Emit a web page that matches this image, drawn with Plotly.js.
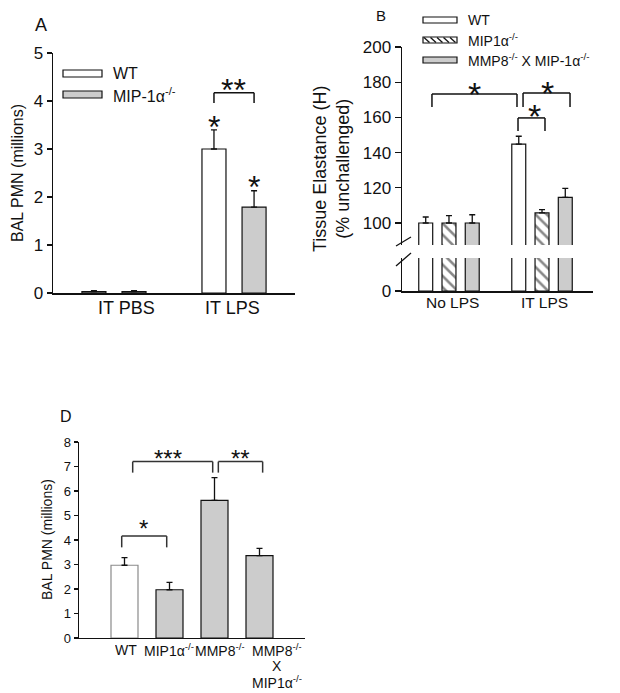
<!DOCTYPE html>
<html><head><meta charset="utf-8">
<script src="https://cdn.plot.ly/plotly-3.0.1.min.js"></script>
<style>html,body{margin:0;padding:0;background:#fff}</style>
</head><body>
<div id="chart" style="width:620px;height:693px"></div>
<script>
// ---------- Panel A data ----------
const groupsA = ["IT PBS", "IT LPS"];
const wtA = [0.03, 3.0];
const wtErrA = [0.02, 0.40];
const mipA = [0.03, 1.79];
const mipErrA = [0.02, 0.34];
const ticksA = [0, 1, 2, 3, 4, 5];
const seriesNamesA = ["WT", "MIP-1α<sup>-/-</sup>"];

// ---------- Panel B data ----------
const groupsB = ["No LPS", "IT LPS"];
const wtB = [100, 144.8];
const wtErrB = [3.4, 4.5];
const mipB = [100, 105.7];
const mipErrB = [4.2, 1.9];
const dkoB = [100, 114.6];
const dkoErrB = [4.7, 5.1];
const ticksB = [100, 120, 140, 160, 180, 200];
const ticksBLow = [0];
const seriesNamesB = ["WT", "MIP1α<sup>-/-</sup>", "MMP8<sup>-/-</sup> X MIP-1α<sup>-/-</sup>"];

// ---------- Panel D data ----------
const strainsD = ["WT", "MIP1a", "MMP8", "MMP8xMIP1a"];
const strainLabelsD = ["WT", "MIP1α<sup>-/-</sup>", "MMP8<sup>-/-</sup>", "MMP8<sup>-/-</sup>|X|MIP1α<sup>-/-</sup>"];
const pmnD = [2.97, 1.97, 5.62, 3.36];
const pmnErrD = [0.31, 0.30, 0.93, 0.30];
const ticksD = [0, 1, 2, 3, 4, 5, 6, 7, 8];

// ---------- styling helpers ----------
const W = 620, H = 693;
const px = x => x / W;
const py = y => 1 - y / H;
const FONT = "Liberation Sans, Arial, sans-serif";
const GRAY = "#cccccc";
const INK = "#111111";

function zeros(a) { return a.map(() => 0); }
function errY(arr) {
  return { type: "data", array: arr, arrayminus: zeros(arr), symmetric: false,
           color: INK, thickness: 1.3, width: 3 };
}
function barTrace(x, y, err, xa, ya, fill, offset, width, extra) {
  const t = {
    type: "bar", x: x, y: y, xaxis: xa, yaxis: ya, offset: offset, width: width,
    marker: { color: fill, line: { color: INK, width: 1.2 } },
    hoverinfo: "skip", showlegend: false
  };
  if (err) t.error_y = errY(err);
  return Object.assign(t, extra || {});
}
const hatch = { shape: "\\", size: 8, solidity: 0.32, fgcolor: INK, bgcolor: "white", fillmode: "overlay" };

const traces = [];
// Panel A
traces.push(barTrace(groupsA, wtA, wtErrA, "x", "y", "white", -0.267, 0.2));
traces.push(barTrace(groupsA, mipA, mipErrA, "x", "y", GRAY, 0.067, 0.2));
// Panel B upper part
const offB = [-0.325, -0.075, 0.175], wB = 0.15;
traces.push(barTrace(groupsB, wtB, wtErrB, "x2", "y2", "white", offB[0], wB));
traces.push(barTrace(groupsB, mipB, mipErrB, "x2", "y2", "white", offB[1], wB));
traces[traces.length - 1].marker.pattern = hatch;
traces.push(barTrace(groupsB, dkoB, dkoErrB, "x2", "y2", GRAY, offB[2], wB));
// Panel B lower part (below axis break)
traces.push(barTrace(groupsB, wtB, null, "x2", "y3", "white", offB[0], wB));
traces.push(barTrace(groupsB, mipB, null, "x2", "y3", "white", offB[1], wB));
traces[traces.length - 1].marker.pattern = hatch;
traces.push(barTrace(groupsB, dkoB, null, "x2", "y3", GRAY, offB[2], wB));
// Panel D
const dFill = ["white", GRAY, GRAY, GRAY];
const dLine = ["#8a8a8a", INK, INK, INK];
const tD = barTrace(strainsD, pmnD, pmnErrD, "x3", "y4", dFill, -0.3, 0.6);
tD.marker.line.color = dLine;
traces.push(tD);

// ---------- axes ----------
function yax(domain, range, tickvals, size, extra) {
  return Object.assign({
    domain: domain, range: range, tickvals: tickvals, ticktext: tickvals.map(String),
    showline: true, linecolor: INK, linewidth: 1.5, ticks: "outside", ticklen: 5,
    tickwidth: 1.3, tickcolor: INK, showgrid: false, zeroline: false,
    tickfont: { family: FONT, size: size, color: INK }, fixedrange: true
  }, extra || {});
}
function xax(domain, range, anchor, extra) {
  return Object.assign({
    domain: domain, range: range, anchor: anchor, type: "category",
    showline: true, linecolor: INK, linewidth: 1.5, ticks: "", showgrid: false,
    zeroline: false, showticklabels: false, fixedrange: true
  }, extra || {});
}

const layout = {
  width: W, height: H, margin: { l: 0, r: 0, t: 0, b: 0 },
  paper_bgcolor: "white", plot_bgcolor: "rgba(0,0,0,0)",
  barmode: "overlay", showlegend: false,
  font: { family: FONT, color: INK },
  xaxis: xax([px(53), px(295)], [-0.508, 1.508], "y"),
  yaxis: yax([py(293), py(53)], [0, 5], ticksA, 17, { anchor: "x" }),
  xaxis2: xax([px(402), px(593)], [-0.505, 1.548], "y3"),
  yaxis2: yax([py(245), py(47)], [87.5, 200], ticksB, 17, { anchor: "x2", ticklen: 6 }),
  yaxis3: yax([py(291), py(258)], [0, 19], ticksBLow, 17, { anchor: "x2", ticklen: 6 }),
  xaxis3: xax([px(79), px(305)], [-1.011, 4.011], "y4", { linewidth: 1.3 }),
  yaxis4: yax([py(638), py(442)], [0, 8], ticksD, 13, { anchor: "x3", ticklen: 4, linewidth: 1.3 }),
  shapes: [], annotations: []
};

const S = layout.shapes, A = layout.annotations;
function bracket(xref, yref, x1, x2, yTop, yBot, color) {
  const line = { color: color || INK, width: 1.5 };
  S.push({ type: "line", xref: xref, yref: yref, x0: x1, x1: x1, y0: yBot, y1: yTop, line: line });
  S.push({ type: "line", xref: xref, yref: yref, x0: x1, x1: x2, y0: yTop, y1: yTop, line: line });
  S.push({ type: "line", xref: xref, yref: yref, x0: x2, x1: x2, y0: yBot, y1: yTop, line: line });
}
function stars(xref, yref, x, y, text, size, yshift) {
  A.push({ xref: xref, yref: yref, x: x, y: y, text: text, showarrow: false,
           xanchor: "center", yanchor: "middle", yshift: (yshift || 0) - 0.23 * size,
           font: { family: FONT, size: size, color: INK } });
}
function label(x, y, text, size, extra) {
  A.push(Object.assign({ xref: "paper", yref: "paper", x: px(x), y: py(y), text: text,
    showarrow: false, xanchor: "center", yanchor: "middle",
    font: { family: FONT, size: size, color: INK } }, extra || {}));
}
function catLabels(xref, yref, cats, shifts, size, yshift, lineStep) {
  cats.forEach((t, i) => {
    String(t).split("|").forEach((line, j) => {
      const a = { xref: xref, yref: yref, x: i, y: 0, text: line,
        showarrow: false, xanchor: "center", yanchor: "top", xshift: shifts[i],
        yshift: yshift - j * (lineStep || 0), font: { family: FONT, size: size, color: INK } };
      if (lineStep) { a.height = lineStep; a.valign = "middle"; a.borderpad = 0; }
      A.push(a);
    });
  });
}
function legendBox(x0, y0, x1, y1, fill) {
  S.push({ type: "rect", xref: "paper", yref: "paper", x0: px(x0), x1: px(x1), y0: py(y1), y1: py(y0),
           fillcolor: fill, line: { color: INK, width: 1.2 } });
}

// ----- Panel A decorations -----
label(41, 25, "A", 18);
label(17, 173, "BAL PMN (millions)", 16, { textangle: -90 });
catLabels("x", "y", groupsA, [13, -2], 18, -3);
legendBox(63, 70, 102, 77, "white");
legendBox(63, 91, 102, 98, GRAY);
label(111, 73.5, seriesNamesA[0], 16, { xanchor: "left" });
label(111, 94.5, seriesNamesA[1], 16, { xanchor: "left" });
bracket("x", "y", 0.833, 1.167, 4.17, 3.96);
stars("x", "y", 0.992, 4.375, "**", 32);
stars("x", "y", 1 - 0.167, wtA[1] + wtErrA[1], "*", 32, 10);
stars("x", "y", 1 + 0.167, mipA[1] + mipErrA[1], "*", 32, 11);

// ----- Panel B decorations -----
label(381, 16, "B", 15);
label(331, 169, "Tissue Elastance (H)<br>(% unchallenged)", 18, { textangle: -90 });
catLabels("x2", "y3", groupsB, [4, 2], 15.5, -1);
legendBox(423, 17, 457, 23, "white");
legendBox(423, 37, 457, 43, "white");
legendBox(423, 57, 457, 63, GRAY);
for (let k = 0; k < 5; k++) {
  const xt = 424 + k * 6.5;
  S.push({ type: "line", xref: "paper", yref: "paper", x0: px(xt), y0: py(37.5), x1: px(xt + 5.5), y1: py(42.5),
           line: { color: INK, width: 1.3 } });
}
seriesNamesB.forEach((n, i) => label(466, 20 + i * 20, n, 14, { xanchor: "left" }));
// axis break marks
S.push({ type: "line", xref: "paper", yref: "paper", x0: px(396), y0: py(246), x1: px(411), y1: py(237), line: { color: INK, width: 1.3 } });
S.push({ type: "line", xref: "paper", yref: "paper", x0: px(396), y0: py(266), x1: px(411), y1: py(253), line: { color: INK, width: 1.3 } });
bracket("x2", "y2", -0.183, 0.731, 173.3, 165.9);
bracket("x2", "y2", 0.796, 1.301, 173.9, 165.9);
bracket("x2", "y2", 0.742, 1.032, 159.7, 152.3);
stars("x2", "y2", 0.269, 177.8, "*", 34);
stars("x2", "y2", 1.054, 178.4, "*", 34);
stars("x2", "y2", 0.914, 165.3, "*", 34);

// ----- Panel D decorations -----
label(66, 416, "D", 16);
label(47, 540, "BAL PMN (millions)", 14, { textangle: -90 });
catLabels("x3", "y4", strainLabelsD, [1.5, -1, 5, 17], 14, -3, 16);
bracket("x3", "y4", -0.062, 0.938, 4.16, 3.70, "#333");
bracket("x3", "y4", 0.182, 1.96, 7.20, 6.75, "#333");
bracket("x3", "y4", 2.085, 3.07, 7.20, 6.75, "#333");
stars("x3", "y4", 0.433, 4.68, "*", 24);
stars("x3", "y4", 0.96, 7.54, "***", 24);
stars("x3", "y4", 2.567, 7.54, "**", 24);

Plotly.newPlot("chart", traces, layout, { staticPlot: true, displayModeBar: false });
</script>
</body></html>
